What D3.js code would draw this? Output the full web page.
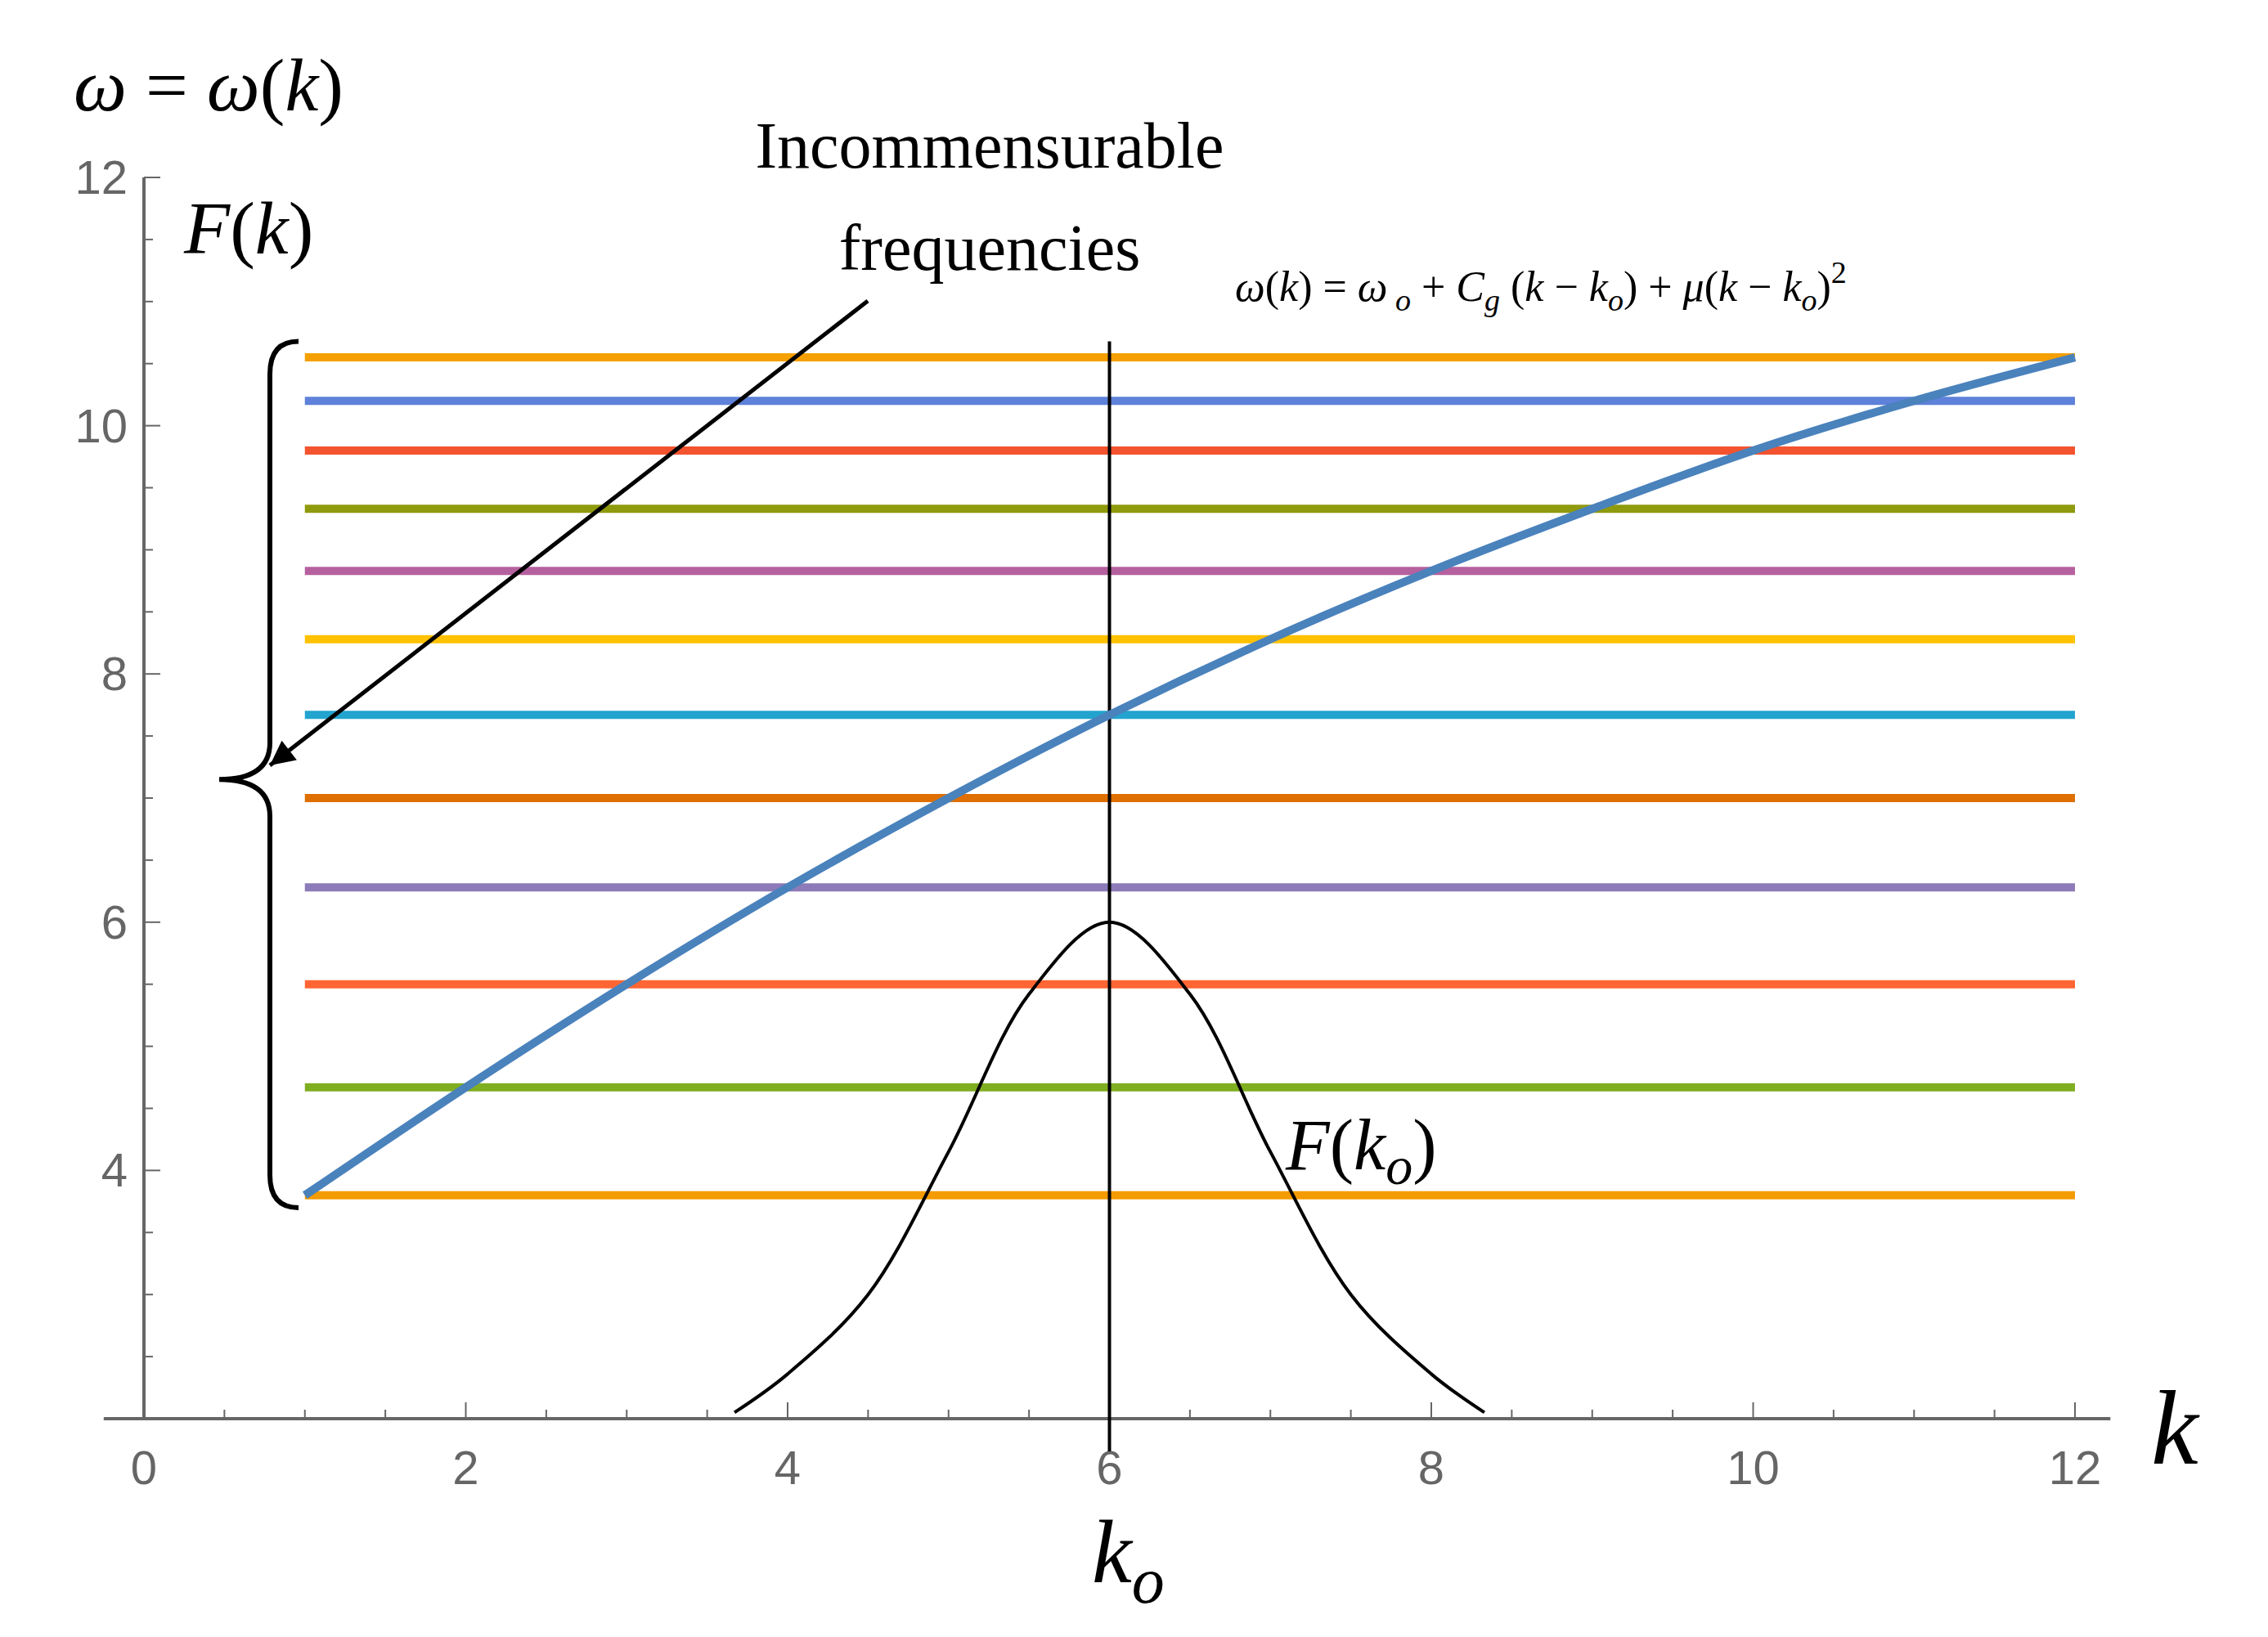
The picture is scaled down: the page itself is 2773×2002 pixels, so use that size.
<!DOCTYPE html>
<html><head><meta charset="utf-8">
<script src="https://cdn.jsdelivr.net/npm/d3@7"></script>
<style>body{margin:0;background:#fff}</style>
</head><body><div id="chart"></div>
<script>
// frequency levels (top to bottom) and their colours
const levels = [10.55, 10.2, 9.8, 9.33, 8.83, 8.28, 7.67, 7.0, 6.28, 5.5, 4.67, 3.8];
const levelColors = ["#f5a000", "#5e81d9", "#f4532f", "#8f9a0d", "#b5609f", "#ffc100",
                     "#22a4cf", "#df6f00", "#8c7bb8", "#ff6633", "#80ae21", "#f49b00"];
// dispersion curve omega(k)
const curveK = [1, 2, 3, 4, 5, 6, 7, 8, 9, 10, 11, 12];
const curveW = [3.8, 4.67, 5.5, 6.28, 7.0, 7.67, 8.28, 8.83, 9.33, 9.8, 10.2, 10.55];
// spectrum bump F(k)
const bumpK = [3.67, 4, 4.5, 5, 5.5, 6, 6.5, 7, 7.5, 8, 8.33];
const bumpF = [2.05, 2.36, 3.0, 4.15, 5.42, 6.0, 5.42, 4.15, 3.0, 2.36, 2.05];
const xTicks = [0, 2, 4, 6, 8, 10, 12];
const yTicks = [4, 6, 8, 10, 12];

const W = 2773, H = 2002;
const svg = d3.select("#chart").append("svg").attr("width", W).attr("height", H);
const x = d3.scaleLinear().domain([0, 12]).range([176, 2537]);
const y = d3.scaleLinear().domain([2, 12]).range([1735, 217]);
const grey = "#666";

// axes
const gx = svg.append("g").attr("transform", `translate(0,${y(2)})`);
gx.append("line").attr("x1", x(-0.25)).attr("x2", x(12.22)).attr("stroke", grey).attr("stroke-width", 4);
gx.selectAll(".t").data(d3.range(0, 12.01, 0.5)).join("line")
  .attr("x1", d => x(d)).attr("x2", d => x(d)).attr("y1", 0)
  .attr("y2", d => d % 2 === 0 ? -20 : -11).attr("stroke", grey).attr("stroke-width", 2);
gx.selectAll("text").data(xTicks).join("text").attr("x", d => x(d)).attr("y", 80)
  .attr("text-anchor", "middle").attr("fill", grey).attr("font-family", "Liberation Sans Narrow, Liberation Sans, sans-serif")
  .attr("font-size", 58).text(d => d);

const gy = svg.append("g");
gy.append("line").attr("x1", x(0)).attr("x2", x(0)).attr("y1", y(2)).attr("y2", y(12)).attr("stroke", grey).attr("stroke-width", 4);
gy.selectAll(".t").data(d3.range(2.5, 12.01, 0.5)).join("line")
  .attr("y1", d => y(d)).attr("y2", d => y(d)).attr("x1", x(0))
  .attr("x2", d => x(0) + (d % 2 === 0 ? 20 : 11)).attr("stroke", grey).attr("stroke-width", 2);
gy.selectAll("text").data(yTicks).join("text").attr("x", x(0) - 20).attr("y", d => y(d) + 20)
  .attr("text-anchor", "end").attr("fill", grey).attr("font-family", "Liberation Sans Narrow, Liberation Sans, sans-serif")
  .attr("font-size", 58).text(d => d);

// horizontal frequency lines
svg.selectAll(".lvl").data(levels).join("line")
  .attr("x1", x(1)).attr("x2", x(12)).attr("y1", d => y(d)).attr("y2", d => y(d))
  .attr("stroke", (d, i) => levelColors[i]).attr("stroke-width", 10);

// vertical k_o line
svg.append("line").attr("x1", x(6)).attr("x2", x(6)).attr("y1", y(2) + 40).attr("y2", y(10.68))
  .attr("stroke", "#000").attr("stroke-width", 4);

// bump
svg.append("path").datum(bumpK.map((k, i) => [k, bumpF[i]]))
  .attr("d", d3.line().x(d => x(d[0])).y(d => y(d[1])).curve(d3.curveCatmullRom))
  .attr("fill", "none").attr("stroke", "#000").attr("stroke-width", 4);

// dispersion curve
svg.append("path").datum(curveK.map((k, i) => [k, curveW[i]]))
  .attr("d", d3.line().x(d => x(d[0])).y(d => y(d[1])).curve(d3.curveMonotoneX))
  .attr("fill", "none").attr("stroke", "#4a82bc").attr("stroke-width", 10);

// brace
const bx = 330, bTop = y(10.68), bBot = y(3.7), bMid = y(7.15), tipX = 268;
const br = d3.path();
br.moveTo(bx + 35, bTop);
br.quadraticCurveTo(bx, bTop, bx, bTop + 40);
br.lineTo(bx, bMid - 45);
br.quadraticCurveTo(bx, bMid, tipX, bMid);
br.quadraticCurveTo(bx, bMid, bx, bMid + 45);
br.lineTo(bx, bBot - 40);
br.quadraticCurveTo(bx, bBot, bx + 35, bBot);
svg.append("path").attr("d", br.toString()).attr("fill", "none").attr("stroke", "#000").attr("stroke-width", 6);

// arrow
svg.append("defs").append("marker").attr("id", "ah").attr("viewBox", "0 0 10 10")
  .attr("refX", 10).attr("refY", 5).attr("markerWidth", 8).attr("markerHeight", 6)
  .attr("markerUnits", "strokeWidth").attr("orient", "auto")
  .append("path").attr("d", "M0,0L10,5L0,10z").attr("fill", "#000");
svg.append("line").attr("x1", 1061).attr("y1", 368).attr("x2", 330).attr("y2", 936)
  .attr("stroke", "#000").attr("stroke-width", 5).attr("marker-end", "url(#ah)");

// texts
const serif = "Liberation Serif, DejaVu Serif, serif";
function txt(xp, yp, size, html, anchor) {
  svg.append("text").attr("x", xp).attr("y", yp).attr("font-family", serif).attr("font-size", size)
    .attr("text-anchor", anchor || "start").html(html);
}
txt(90, 135, 92, '<tspan font-style="italic">ω</tspan> = <tspan font-style="italic">ω</tspan>(<tspan font-style="italic">k</tspan>)');
txt(225, 310, 92, '<tspan font-style="italic">F</tspan>(<tspan font-style="italic">k</tspan>)');
txt(1210, 205, 80, 'Incommensurable', "middle");
txt(1210, 330, 80, 'frequencies', "middle");
txt(1510, 368, 52, '<tspan font-style="italic">ω</tspan>(<tspan font-style="italic">k</tspan>) = <tspan font-style="italic">ω</tspan><tspan font-style="italic" font-size="38" dy="12"> o</tspan><tspan dy="-12"> + </tspan><tspan font-style="italic">C</tspan><tspan font-style="italic" font-size="38" dy="12">g</tspan><tspan dy="-12"> (</tspan><tspan font-style="italic">k</tspan> − <tspan font-style="italic">k</tspan><tspan font-style="italic" font-size="38" dy="12">o</tspan><tspan dy="-12">) + </tspan><tspan font-style="italic">μ</tspan>(<tspan font-style="italic">k</tspan> − <tspan font-style="italic">k</tspan><tspan font-style="italic" font-size="38" dy="12">o</tspan><tspan dy="-12">)</tspan><tspan font-size="38" dy="-22">2</tspan>');
txt(1572, 1430, 88, '<tspan font-style="italic">F</tspan>(<tspan font-style="italic">k</tspan><tspan font-style="italic" font-size="66" dy="18">o</tspan><tspan dy="-18">)</tspan>');
txt(2630, 1790, 130, '<tspan font-style="italic">k</tspan>');
txt(1335, 1935, 110, '<tspan font-style="italic">k</tspan><tspan font-style="italic" font-size="80" dy="25">o</tspan>');
</script></body></html>
